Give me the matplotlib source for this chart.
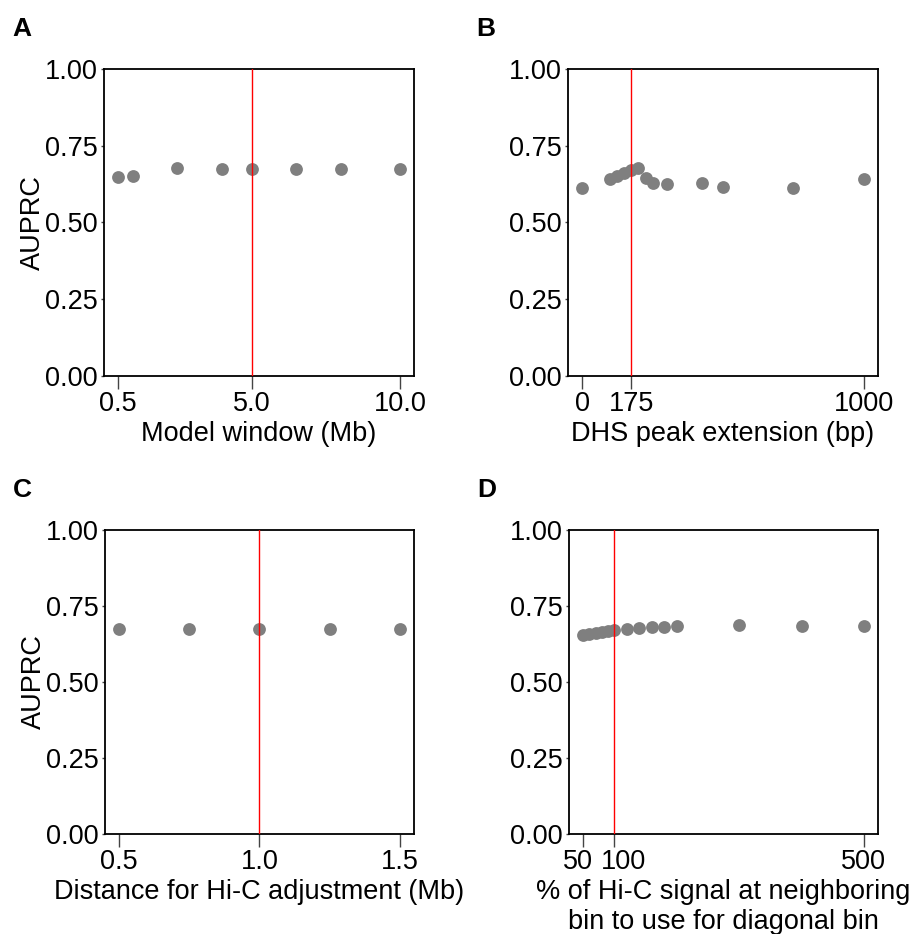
import matplotlib
matplotlib.use("Agg")
import matplotlib.pyplot as plt
from matplotlib.transforms import ScaledTranslation

plt.rcParams['font.family'] = ['Liberation Sans', 'DejaVu Sans']

# panel A: model window
window_mb = [0.5, 1.0, 2.5, 4.0, 5.0, 6.5, 8.0, 10.0]
auprc_window = [0.649, 0.651, 0.676, 0.674, 0.673, 0.673, 0.673, 0.673]

# panel B: DHS peak extension
dhs_ext = [0, 100, 125, 150, 175, 200, 225, 250, 300, 425, 500, 750, 1000]
auprc_dhs = [0.611, 0.641, 0.652, 0.662, 0.671, 0.677, 0.646, 0.630, 0.625,
             0.628, 0.615, 0.612, 0.642]

# panel C: Hi-C adjustment distance
hic_dist = [0.5, 0.75, 1.0, 1.25, 1.5]
auprc_dist = [0.674, 0.674, 0.673, 0.673, 0.673]

# panel D: % of Hi-C signal for diagonal bin
diag_pct = [50, 60, 70, 80, 90, 100, 120, 140, 160, 180, 200, 300, 400, 500]
auprc_diag = [0.655, 0.658, 0.661, 0.664, 0.667, 0.671, 0.675, 0.678, 0.680,
              0.681, 0.683, 0.686, 0.685, 0.684]

W, H = 917, 934
FS = 19.5
fig = plt.figure(figsize=(W / 100, H / 100), dpi=100)


def px_axes(l, t, r, b):
    return fig.add_axes([l / W, 1 - b / H, (r - l) / W, (b - t) / H])


panels = [
    dict(box=(104, 69, 414, 376), x=window_mb, y=auprc_window, ref=5.0,
         xlim=(0.025, 10.475), ticks=[0.5, 5.0, 10.0], labels=["0.5", "5.0", "10.0"],
         xlabel="Model window (Mb)", letter="A", ylab=True, shift=None),
    dict(box=(568, 69, 878, 376), x=dhs_ext, y=auprc_dhs, ref=175,
         xlim=(-50, 1050), ticks=[0, 175, 1000], labels=["0", "175", "1000"],
         xlabel="DHS peak extension (bp)", letter="B", ylab=False, shift=None),
    dict(box=(105, 530, 414, 834), x=hic_dist, y=auprc_dist, ref=1.0,
         xlim=(0.45, 1.55), ticks=[0.5, 1.0, 1.5], labels=["0.5", "1.0", "1.5"],
         xlabel="Distance for Hi-C adjustment (Mb)", letter="C", ylab=True, shift=None),
    dict(box=(569, 530, 878, 834), x=diag_pct, y=auprc_diag, ref=100,
         xlim=(27.5, 522.5), ticks=[50, 100, 500], labels=["50", "100", "500"],
         xlabel="% of Hi-C signal at neighboring\nbin to use for diagonal bin",
         letter="D", ylab=False, shift=[-5, 9, 0]),
]

for p in panels:
    ax = px_axes(*p['box'])
    ax.scatter(p['x'], p['y'], s=85, color='#7f7f7f', linewidths=0, zorder=2)
    ax.axvline(p['ref'], color='red', lw=1, zorder=3)
    ax.set_xlim(*p['xlim'])
    ax.set_ylim(0, 1)
    ax.set_xticks(p['ticks'])
    ax.set_xticklabels(p['labels'])
    ax.set_yticks([0, 0.25, 0.5, 0.75, 1.0])
    ax.set_yticklabels(["0.00", "0.25", "0.50", "0.75", "1.00"])
    ax.tick_params(axis='x', length=9, width=1, color='#444444', pad=2,
                   labelsize=FS)
    ax.tick_params(axis='y', length=2.5, width=1, color='#444444', pad=2,
                   labelsize=FS)
    for s in ax.spines.values():
        s.set_linewidth(1.3)
    # nudge crowded tick labels apart
    if p['shift']:
        for lab, dx in zip(ax.get_xticklabels(), p['shift']):
            lab.set_transform(lab.get_transform() +
                              ScaledTranslation(dx / 100, 0, fig.dpi_scale_trans))
    ax.set_xlabel(p['xlabel'], fontsize=FS, labelpad=3, linespacing=1.2)
    if p['ylab']:
        ax.set_ylabel("AUPRC", fontsize=FS, labelpad=-1)
    l, t = p['box'][0], p['box'][1]
    fig.text((l - 92) / W, 1 - (t - 40) / H, p['letter'], fontsize=19,
             fontweight='bold', ha='left', va='center')

fig.savefig("out.png", dpi=100)
